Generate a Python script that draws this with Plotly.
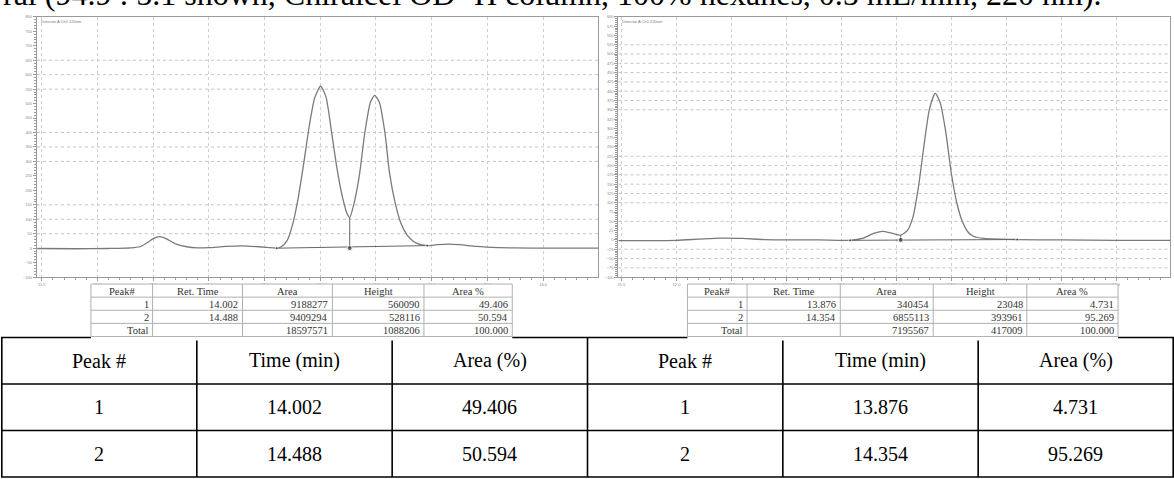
import plotly.graph_objects as go

W, H = 1174, 479

# ---------------- chromatogram data (time in min, signal in mV) ----------------
rac_time = [11.46, 11.8, 12.1, 12.3, 12.38, 12.45, 12.5, 12.56, 12.62, 12.7, 12.8, 12.9,
            13.0, 13.15, 13.3, 13.45, 13.58, 13.61, 13.65, 13.7, 13.75, 13.8, 13.85, 13.9,
            13.95, 14.002, 14.05, 14.1, 14.15, 14.2, 14.24, 14.264, 14.3, 14.35, 14.4,
            14.45, 14.488, 14.53, 14.58, 14.62, 14.67, 14.72, 14.78, 14.84, 14.9, 14.96,
            15.05, 15.15, 15.25, 15.4, 15.6, 15.9, 16.2, 16.5]
rac_signal = [-1, -2, -1, 1, 5, 20, 33, 40, 32, 15, 5, 1,
              2, 6, 8, 5, 1, 0, 5, 25, 80, 170, 290, 420,
              520, 560.09, 525, 405, 275, 175, 120, 106, 150, 250, 400,
              505, 528.116, 505, 400, 264, 160, 90, 45, 22, 12, 9,
              12, 14, 12, 6, 2, 0, 0, 0]

enr_time = [11.47, 11.8, 12.0, 12.2, 12.4, 12.6, 12.8, 13.0, 13.3, 13.58, 13.7, 13.8,
            13.876, 13.95, 14.04, 14.1, 14.15, 14.2, 14.25, 14.3, 14.354, 14.4, 14.45,
            14.5, 14.55, 14.6, 14.65, 14.7, 14.8, 15.1, 15.5, 16.0, 16.49]
enr_signal = [-2, -2, -1, 2, 5, 4, 1, 0, 0, -1, 5, 18,
              23.048, 19, 13, 25, 60, 140, 250, 350, 393.961, 368, 290,
              180, 100, 50, 22, 10, 4, 1, 0, -1, -1]

# integration marks: (time, signal) for start, valley drop and end
rac_start, rac_drop, rac_end = (13.61, 0), (14.264, 106), (14.96, 9)
enr_start, enr_drop, enr_end = (13.58, -1), (14.04, 13), (15.1, 1)

# ---------------- peak reports ----------------
report_cols = ["Peak#", "Ret. Time", "Area", "Height", "Area %"]
rac_peak = ["1", "2", "Total"]
rac_rt = ["14.002", "14.488", ""]
rac_area = ["9188277", "9409294", "18597571"]
rac_height = ["560090", "528116", "1088206"]
rac_pct = ["49.406", "50.594", "100.000"]

enr_peak = ["1", "2", "Total"]
enr_rt = ["13.876", "14.354", ""]
enr_area = ["340454", "6855113", "7195567"]
enr_height = ["23048", "393961", "417009"]
enr_pct = ["4.731", "95.269", "100.000"]

summary_cols = ["Peak #", "Time (min)", "Area (%)", "Peak #", "Time (min)", "Area (%)"]
summary_peak = ["1", "2"]
summary_rac_time = ["14.002", "14.488"]
summary_rac_pct = ["49.406", "50.594"]
summary_enr_time = ["13.876", "14.354"]
summary_enr_pct = ["4.731", "95.269"]

caption = "ral (94.9 : 5.1 shown, Chiralcel OD -H column, 100% hexanes, 0.5 mL/min, 220 nm)."

# dotted grid levels that show on each trace plot
rac_grid = [650, 600, 550, 400, 350, 300, 150, 100, 50]
enr_grid = [525, 500, 475, 450, 425, 400, 375, 350, 225, 200, 175, 150, 125, 100, 50, -25, -50, -75]


def fx(px):
    return px / W


def fy(py):
    return 1 - py / H


TRACE = "#7a7a7a"
AXIS = "#9a9a9a"
SERIF = "Liberation Serif, Times New Roman, serif"

fig = go.Figure()


def add_chrom(t, s, start, drop, end, xa, ya):
    fig.add_trace(go.Scatter(x=t, y=s, mode="lines", xaxis=xa, yaxis=ya,
                             line=dict(color=TRACE, width=1.3, shape="spline", smoothing=0.6),
                             hoverinfo="skip", showlegend=False))
    fig.add_trace(go.Scatter(x=[start[0], end[0]], y=[start[1], end[1]], mode="lines",
                             xaxis=xa, yaxis=ya, line=dict(color="#666", width=1),
                             hoverinfo="skip", showlegend=False))
    fig.add_trace(go.Scatter(x=[drop[0], drop[0]], y=[0, drop[1]], mode="lines",
                             xaxis=xa, yaxis=ya, line=dict(color="#666", width=1),
                             hoverinfo="skip", showlegend=False))
    fig.add_trace(go.Scatter(x=[start[0], drop[0], end[0]], y=[start[1], 0, end[1]],
                             mode="markers", xaxis=xa, yaxis=ya,
                             marker=dict(color="#333", size=[3, 5, 3]),
                             hoverinfo="skip", showlegend=False))


add_chrom(rac_time, rac_signal, rac_start, rac_drop, rac_end, "x", "y")
add_chrom(enr_time, enr_signal, enr_start, enr_drop, enr_end, "x2", "y2")

tickfont = dict(family="Arial", size=4, color="#888")


def xaxis_style(domain, rng, anchor):
    return dict(domain=domain, range=rng, anchor=anchor, tick0=11.5, dtick=0.5,
                tickformat=".1f", ticks="outside", ticklen=3, tickcolor=AXIS,
                tickfont=tickfont, showline=True, linecolor=AXIS, linewidth=1,
                mirror=True, showgrid=True, gridcolor="#cfcfcf", griddash="dot",
                gridwidth=1, zeroline=False,
                minor=dict(dtick=0.1, ticks="outside", ticklen=2, tickcolor=AXIS,
                           showgrid=False))


def yaxis_style(domain, rng, anchor, step, minor_step):
    return dict(domain=domain, range=rng, anchor=anchor, dtick=step, tick0=0,
                tickformat="d", ticks="outside", ticklen=3, tickcolor=AXIS,
                tickfont=tickfont, showline=True, linecolor=AXIS, linewidth=1.2,
                mirror=True, showgrid=False, zeroline=False,
                minor=dict(dtick=minor_step, ticks="outside", ticklen=2,
                           tickcolor=AXIS, showgrid=False))


ydom = [fy(277), fy(14)]
fig.update_layout(
    width=W, height=H, autosize=False,
    margin=dict(l=0, r=0, t=0, b=0),
    paper_bgcolor="white", plot_bgcolor="white",
    xaxis=xaxis_style([fx(36), fx(598)], [11.457, 16.497], "y"),
    yaxis=yaxis_style(ydom, [-100, 800], "x", 50, 10),
    xaxis2=xaxis_style([fx(618), fx(1170)], [11.472, 16.49], "y2"),
    yaxis2=yaxis_style(ydom, [-100, 600], "x2", 25, 5),
)

shapes = []
annotations = []
for lvl in rac_grid:
    shapes.append(dict(type="line", xref="x domain", yref="y", x0=0, x1=1, y0=lvl, y1=lvl,
                       line=dict(color="#c4c4c4", width=1, dash="dot"), layer="below"))
for lvl in enr_grid:
    shapes.append(dict(type="line", xref="x2 domain", yref="y2", x0=0, x1=1, y0=lvl, y1=lvl,
                       line=dict(color="#c4c4c4", width=1, dash="dot"), layer="below"))


def hline(x0, x1, y, color, width):
    shapes.append(dict(type="line", xref="paper", yref="paper", x0=fx(x0), x1=fx(x1),
                       y0=fy(y), y1=fy(y), line=dict(color=color, width=width)))


def vline(x, y0, y1, color, width):
    shapes.append(dict(type="line", xref="paper", yref="paper", x0=fx(x), x1=fx(x),
                       y0=fy(y0), y1=fy(y1), line=dict(color=color, width=width)))


def text(s, x, y, size, color, anchor="center", family=SERIF):
    annotations.append(dict(text=s, xref="paper", yref="paper", x=fx(x), y=fy(y),
                            xanchor=anchor, yanchor="middle", showarrow=False,
                            font=dict(family=family, size=size, color=color)))


# ---- summary table (bottom) ----
sum_top, sum_row = 338, 47
sum_edges = [0.8, 196, 391.5, 587, 782.5, 978, 1173.2]
sum_rows = [summary_cols,
            [summary_peak[0], summary_rac_time[0], summary_rac_pct[0],
             summary_peak[0], summary_enr_time[0], summary_enr_pct[0]],
            [summary_peak[1], summary_rac_time[1], summary_rac_pct[1],
             summary_peak[1], summary_enr_time[1], summary_enr_pct[1]]]
for r in range(len(sum_rows) + 1):
    hline(0, W, sum_top + r * sum_row, "black", 1.6)
for xe in sum_edges:
    vline(xe, sum_top, sum_top + len(sum_rows) * sum_row, "black", 1.6)
for r, row in enumerate(sum_rows):
    yc = sum_top + (r + 0.5) * sum_row
    for c, val in enumerate(row):
        text(val, (sum_edges[c] + sum_edges[c + 1]) / 2, yc, 20, "black")


# ---- peak reports under each trace ----
def add_report(edges, cols):
    top, rh = 284, 13.25
    n = 4
    shapes.append(dict(type="rect", xref="paper", yref="paper", x0=fx(edges[0]),
                       x1=fx(edges[-1]), y0=fy(top + n * rh + 4), y1=fy(top),
                       line=dict(width=0), fillcolor="white"))
    for r in range(n + 1):
        hline(edges[0], edges[-1], top + r * rh, "#b0b0b0", 1)
    for xe in edges:
        vline(xe, top, top + n * rh, "#b0b0b0", 1)
    for c, name in enumerate(report_cols):
        text(name, (edges[c] + edges[c + 1]) / 2, top + 0.5 * rh + 0.5, 10.5, "#333")
    for c, col in enumerate(cols):
        for r, val in enumerate(col):
            if val:
                text(val, edges[c + 1] - 2, top + (r + 1.5) * rh + 0.5, 10.5, "#333",
                     anchor="right")


add_report([90, 151.7, 241.7, 331.7, 423.3, 511.7],
           [rac_peak, rac_rt, rac_area, rac_height, rac_pct])
add_report([687, 746.7, 840, 933, 1026.7, 1118],
           [enr_peak, enr_rt, enr_area, enr_height, enr_pct])

# cut-off caption line across the very top
annotations.append(dict(text=caption, xref="paper", yref="paper", x=0, y=fy(11.5),
                        xanchor="left", yanchor="bottom", showarrow=False,
                        font=dict(family=SERIF, size=32, color="black")))
for x0 in (38, 620):
    annotations.append(dict(text="Detector A Ch1 220nm", xref="paper", yref="paper",
                            x=fx(x0), y=fy(14.5), xanchor="left", yanchor="top",
                            showarrow=False, font=dict(family="Arial", size=4, color="#777")))

fig.update_layout(shapes=shapes, annotations=annotations)

fig.write_html("out.html")
